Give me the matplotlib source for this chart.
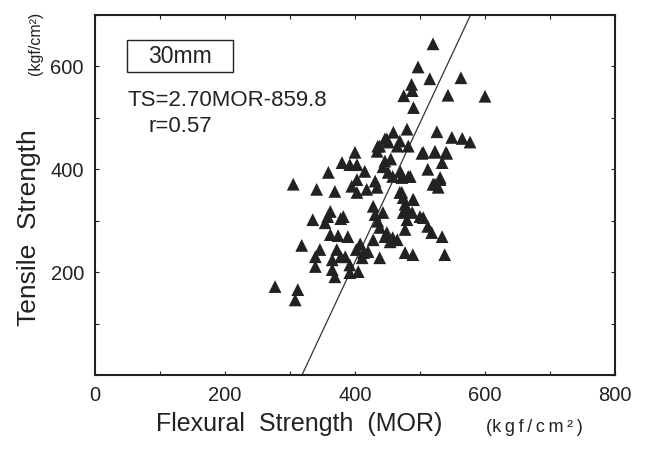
import matplotlib
matplotlib.use("Agg")
import matplotlib.pyplot as plt
from matplotlib.patches import Rectangle
import numpy as np

plt.rcParams['font.family'] = ['Liberation Sans', 'DejaVu Sans']

# Flexural strength (MOR) and tensile strength (TS), kgf/cm2
mor = [
    520, 497, 515, 563, 487, 488, 475, 543, 600, 490,
    480, 526, 549, 565, 577, 459, 446, 435, 451, 482,
    523, 541, 503, 534, 512, 482, 472, 531, 520, 528,
    443, 446, 451, 415, 458, 485, 431, 434, 418, 469,
    474, 489, 428, 480, 488, 500, 469, 465, 449, 438,
    434, 505, 523, 540, 531, 523,
    472, 490, 477, 474, 480, 477, 505, 512, 518, 534,
    443, 449, 458, 477, 489, 538, 438,
    400, 380, 392, 403, 359, 305, 341, 369, 403, 395,
    403, 362, 358, 335, 354, 382, 378, 431, 435, 438,
    362, 374, 389, 318, 346, 339, 339, 372, 365, 365,
    369, 378, 385, 392, 402, 411, 428, 446, 454, 465,
    392, 405, 277, 312, 308, 413, 420, 408, 455, 470,
]
ts = [
    644, 599, 576, 578, 565, 553, 543, 544, 542, 520,
    478, 473, 462, 460, 453, 472, 459, 445, 453, 445,
    435, 431, 431, 413, 400, 386, 384, 380, 371, 365,
    405, 416, 394, 396, 386, 386, 377, 365, 361, 355,
    345, 341, 328, 322, 316, 308, 455, 445, 459, 445,
    435, 433, 433, 433, 384, 371,
    355, 341, 332, 316, 302, 283, 306, 289, 277, 269,
    316, 277, 267, 238, 234, 234, 228,
    433, 413, 409, 409, 394, 371, 361, 357, 380, 367,
    355, 318, 308, 302, 296, 308, 304, 312, 299, 287,
    273, 271, 269, 252, 244, 230, 211, 244, 224, 205,
    191, 230, 230, 214, 244, 228, 263, 269, 259, 263,
    199, 201, 172, 166, 146, 238, 240, 255, 420, 395,
]

slope, intercept = 2.70, -859.8
r_value = 0.57
size_label = "30mm"

x_ticks = np.arange(0, 801, 100)
y_ticks = np.arange(0, 701, 100)
x_labels = ["0", "", "200", "", "400", "", "600", "", "800"]
y_labels = ["", "", "200", "", "400", "", "600", ""]

ink = "#222222"
unit = "(k\u2009g\u2009f\u2009/\u2009c\u2009m\u2009\u00b2\u2009)"

fig = plt.figure(figsize=(6.47, 4.49), dpi=100)
ax = fig.add_axes([95 / 647, 74 / 449, 520 / 647, 360 / 449])

ax.scatter(mor, ts, marker="^", s=85, color=ink, edgecolors="none", zorder=3)

xl = np.array([0, 800])
ax.plot(xl, slope * xl + intercept, color="#333333", lw=0.9, zorder=2)

ax.set_xlim(0, 800)
ax.set_ylim(0, 700)
ax.set_xticks(x_ticks)
ax.set_xticklabels(x_labels)
ax.set_yticks(y_ticks)
ax.set_yticklabels(y_labels)
ax.tick_params(direction="in", length=3, width=0.8, top=True, right=True,
               labelsize=14.5, pad=8, colors=ink)
for s in ax.spines.values():
    s.set_linewidth(1.5)
    s.set_color(ink)

# framed size label
ax.add_patch(Rectangle((32 / 520, 1 - 57 / 360), 106 / 520, 32 / 360,
                       transform=ax.transAxes, fill=False, ec=ink, lw=1.0, zorder=4))
ax.text(85 / 520, 1 - 41 / 360, size_label, transform=ax.transAxes, fontsize=16.5,
        ha="center", va="center", color=ink)

# regression equation and correlation
ax.text(32 / 520, 1 - 85 / 360, "TS=%.2fMOR%.1f" % (slope, intercept),
        transform=ax.transAxes, fontsize=16, ha="left", va="center", color=ink)
ax.text(53 / 520, 1 - 111 / 360, "r=%.2f" % r_value, transform=ax.transAxes,
        fontsize=16, ha="left", va="center", color=ink)

# axis titles
fig.text(299 / 647, 1 - 424 / 449, "Flexural  Strength  (MOR)", fontsize=18,
         ha="center", va="center", color=ink)
fig.text(534 / 647, 1 - 428 / 449, unit, fontsize=13,
         ha="center", va="center", color=ink)
fig.text(29 / 647, 1 - 228 / 449, "Tensile  Strength", fontsize=19, rotation=90,
         ha="center", va="center", color=ink)
fig.text(36 / 647, 1 - 43 / 449, "(kgf/cm\u00b2)", fontsize=11.5, rotation=90,
         ha="center", va="center", color=ink)

fig.savefig("out.png", dpi=100)
